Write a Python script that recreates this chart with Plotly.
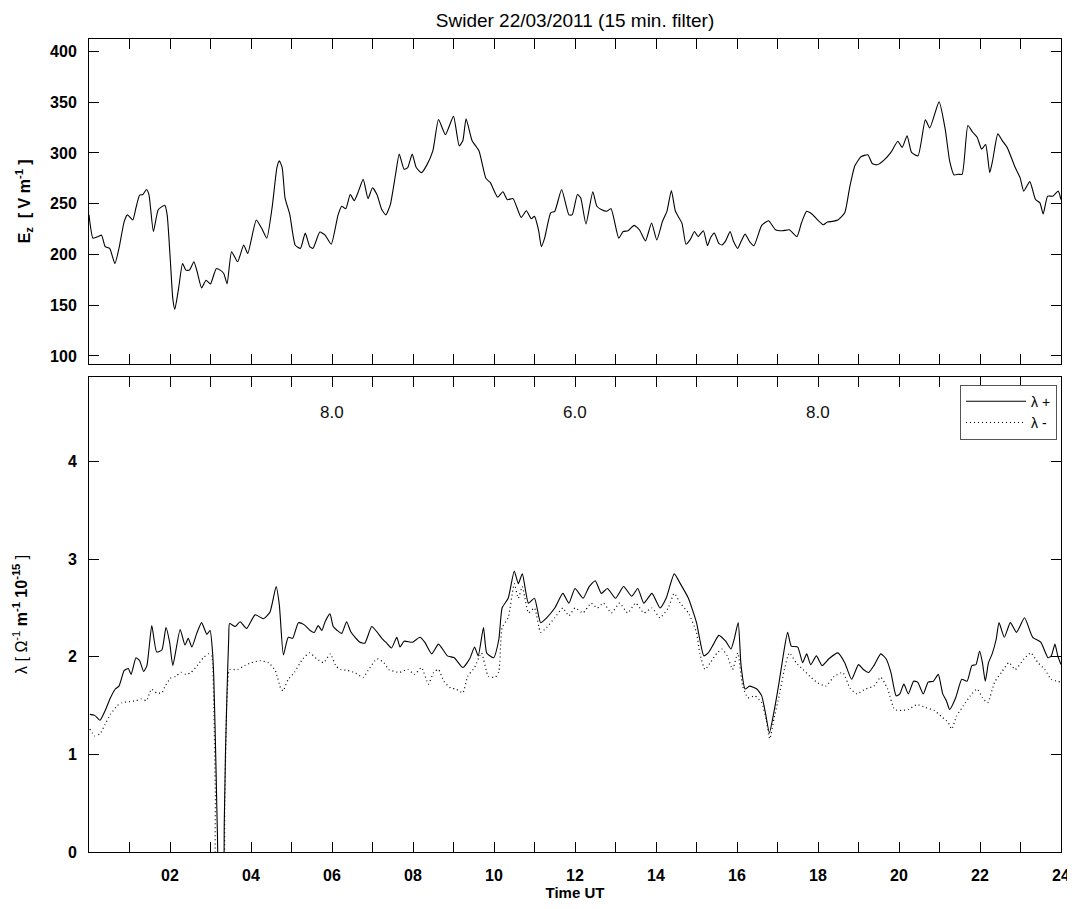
import plotly.graph_objects as go

# ---------------- data ----------------
ez_time = [0.0, 0.1, 0.23, 0.31, 0.4, 0.51, 0.64, 0.74, 0.87, 0.95, 1.08, 1.16, 1.25, 1.33, 1.42, 1.48,
           1.59, 1.71, 1.87, 1.93, 2.01, 2.07, 2.12, 2.21, 2.31, 2.39, 2.48, 2.59, 2.67, 2.78, 2.89, 3.0,
           3.14, 3.24, 3.33, 3.41, 3.52, 3.67, 3.82, 3.92, 4.13, 4.26, 4.39, 4.52, 4.64, 4.7, 4.77, 4.84,
           4.96, 5.09, 5.22, 5.34, 5.45, 5.53, 5.7, 5.83, 5.98, 6.15, 6.24, 6.34, 6.45, 6.55, 6.64, 6.77,
           6.89, 7.0, 7.11, 7.23, 7.33, 7.44, 7.57, 7.66, 7.78, 7.87, 7.98, 8.08, 8.21, 8.34, 8.49, 8.63,
           8.8, 9.0, 9.14, 9.23, 9.31, 9.46, 9.63, 9.8, 9.91, 10.09, 10.22, 10.33, 10.47, 10.67, 10.8, 10.92,
           11.0, 11.1, 11.17, 11.25, 11.4, 11.5, 11.67, 11.85, 11.93, 12.06, 12.14, 12.27, 12.44, 12.54, 12.66,
           12.78, 12.89, 13.08, 13.19, 13.31, 13.46, 13.59, 13.74, 13.89, 14.02, 14.16, 14.27, 14.38, 14.48,
           14.64, 14.74, 14.84, 14.95, 15.04, 15.17, 15.27, 15.35, 15.44, 15.55, 15.63, 15.72, 15.83, 15.91,
           16.02, 16.1, 16.2, 16.31, 16.42, 16.61, 16.78, 16.95, 17.12, 17.29, 17.48, 17.59, 17.72, 17.85,
           17.99, 18.13, 18.23, 18.36, 18.49, 18.66, 18.78, 18.91, 19.06, 19.23, 19.34, 19.46, 19.63, 19.8,
           19.97, 20.08, 20.2, 20.31, 20.47, 20.65, 20.76, 20.99, 21.14, 21.25, 21.36, 21.46, 21.56, 21.7,
           21.82, 21.93, 22.04, 22.14, 22.24, 22.31, 22.44, 22.55, 22.67, 22.87, 22.99, 23.08, 23.23, 23.37,
           23.48, 23.56, 23.67, 23.8, 23.93, 24.0]
ez_value = [239, 216, 217.6, 219, 207.7, 206, 191, 206, 232.6, 239, 234, 246, 258.4, 259, 264, 259,
            222.6, 244, 248.5, 239, 193, 156, 146, 166, 191, 184.5, 184.5, 192.8, 183, 167, 174.5, 171,
            186, 184.5, 181, 171, 202.7, 192.8, 209.3, 201, 234, 226, 216, 245.8, 285.6, 292.2, 285.6, 255.8,
            239, 209.3, 206, 221, 207.7, 206, 222, 219, 210, 239, 247.5, 245, 259, 253, 260.7, 274,
            255, 265.7, 259, 244, 239, 249, 279, 298.9, 284, 285.6, 298.9, 285.6, 280.6, 288, 302, 333,
            318, 336, 307, 312, 333.7, 312, 302, 275, 270.7, 256.4, 261.7, 254, 255, 236.5, 243, 235.2,
            237.5, 224, 207.7, 216, 241, 242.5, 264, 239, 239, 259, 255.8, 230, 261.7, 247.5, 244,
            242.5, 245, 216, 222.6, 223.3, 228.6, 224.3, 213.3, 230.9, 214.3, 232.6, 242.5, 263, 242.5,
            230.9, 210, 214.3, 222.6, 217.6, 223.3, 208.7, 216.6, 221, 211, 209.3, 213.3, 222.6, 213.3,
            206, 212.7, 220, 212.7, 208.7, 228.6, 233.2, 224.3, 223.3, 224.3, 217.6, 230.9, 242.5, 239.8,
            234, 229.2, 231.9, 232.6, 234, 241, 265.7, 287.3, 296.2, 298.2, 289.6, 288.3, 292.9, 300.5,
            311.5, 305.5, 317, 300.5, 297.2, 332.7, 324.7, 350.3, 323.7, 292.2, 278.3, 279, 279, 327,
            320.4, 315.5, 303.8, 308.2, 280.6, 292.2, 318.8, 312.1, 305.5, 285.6, 275.7, 262.4, 271.7, 254.1,
            250.8, 239.9, 257.4, 257.4, 262.4, 254.1]

lp_time = [0.02, 0.14, 0.27, 0.4, 0.53, 0.65, 0.74, 0.87, 0.97, 1.04, 1.16, 1.25, 1.35, 1.43, 1.55, 1.67,
           1.8, 1.9, 1.99, 2.07, 2.25, 2.37, 2.45, 2.54, 2.66, 2.78, 2.91, 2.99, 3.05, 3.08, 3.12, 3.14,
           3.17, 3.22, 3.3, 3.34, 3.37, 3.41, 3.45, 3.47, 3.61, 3.73, 3.89, 4.1, 4.31, 4.47, 4.62, 4.7,
           4.8, 4.92, 5.03, 5.17, 5.31, 5.46, 5.56, 5.66, 5.75, 5.83, 5.95, 6.03, 6.13, 6.24, 6.36, 6.46,
           6.57, 6.69, 6.81, 6.98, 7.1, 7.23, 7.35, 7.47, 7.6, 7.68, 7.78, 7.99, 8.17, 8.29, 8.46, 8.63,
           8.85, 9.02, 9.23, 9.4, 9.52, 9.61, 9.74, 9.82, 9.99, 10.12, 10.2, 10.35, 10.5, 10.6, 10.7, 10.85,
           11.0, 11.15, 11.3, 11.5, 11.7, 11.85, 12.0, 12.2, 12.35, 12.5, 12.65, 12.8, 13.0, 13.2, 13.4,
           13.55, 13.7, 13.9, 14.1, 14.25, 14.45, 14.6, 14.8, 15.0, 15.08, 15.18, 15.29, 15.42, 15.55,
           15.72, 15.85, 15.93, 16.03, 16.1, 16.2, 16.31, 16.49, 16.61, 16.7, 16.8, 16.91, 17.04, 17.14,
           17.25, 17.34, 17.5, 17.62, 17.72, 17.82, 17.96, 18.1, 18.27, 18.49, 18.66, 18.83, 19.0, 19.12,
           19.25, 19.38, 19.55, 19.68, 19.8, 19.93, 20.02, 20.12, 20.23, 20.36, 20.46, 20.6, 20.72, 20.85,
           20.97, 21.08, 21.17, 21.25, 21.4, 21.55, 21.68, 21.8, 21.9, 21.99, 22.06, 22.13, 22.21, 22.3,
           22.4, 22.47, 22.6, 22.75, 22.9, 23.1, 23.3, 23.5, 23.68, 23.76, 23.85, 23.92, 24.0]
lp_value = [1.41, 1.40, 1.35, 1.45, 1.58, 1.67, 1.70, 1.86, 1.88, 1.82, 1.99, 1.96, 1.85, 1.91, 2.32, 2.05,
            2.07, 2.30, 2.15, 1.91, 2.28, 2.12, 2.19, 2.10, 2.24, 2.35, 2.23, 2.27, 2.05, 1.80, 1.15, 0.78,
            0.20, -0.3, -0.3, 0.3, 1.02, 1.67, 2.20, 2.34, 2.31, 2.36, 2.29, 2.43, 2.39, 2.46, 2.72, 2.53,
            2.02, 2.20, 2.19, 2.35, 2.33, 2.27, 2.25, 2.32, 2.27, 2.36, 2.44, 2.31, 2.27, 2.24, 2.36, 2.26,
            2.20, 2.15, 2.14, 2.31, 2.26, 2.19, 2.14, 2.09, 2.20, 2.10, 2.16, 2.15, 2.20, 2.15, 2.03, 2.13,
            2.01, 1.99, 1.89, 1.98, 2.10, 2.01, 2.30, 2.04, 1.99, 2.18, 2.50, 2.60, 2.88, 2.75, 2.85, 2.55,
            2.60, 2.35, 2.40, 2.50, 2.65, 2.55, 2.70, 2.60, 2.72, 2.78, 2.65, 2.70, 2.60, 2.72, 2.62,
            2.70, 2.55, 2.65, 2.50, 2.60, 2.85, 2.75, 2.60, 2.35, 2.18, 2.01, 2.04, 2.13, 2.22,
            2.16, 2.08, 2.18, 2.35, 1.91, 1.67, 1.70, 1.67, 1.60, 1.43, 1.22, 1.43, 1.74, 2.01,
            2.25, 2.11, 2.10, 1.94, 2.03, 1.92, 2.01, 1.91, 1.98, 2.04, 1.94, 1.77, 1.92, 1.87,
            1.84, 1.91, 2.03, 1.98, 1.84, 1.60, 1.62, 1.72, 1.62, 1.75, 1.74, 1.62, 1.74, 1.75,
            1.82, 1.62, 1.55, 1.46, 1.58, 1.77, 1.75, 1.91, 1.92, 2.06, 1.94, 1.75, 1.94, 2.03,
            2.18, 2.35, 2.20, 2.35, 2.25, 2.40, 2.20, 2.15, 1.99, 2.01, 2.13, 2.01, 1.92]

lm_time = [0.02, 0.14, 0.27, 0.4, 0.53, 0.7, 0.82, 0.99, 1.16, 1.29, 1.42, 1.54, 1.67, 1.8, 1.88, 2.01,
           2.14, 2.27, 2.39, 2.52, 2.69, 2.82, 2.95, 3.03, 3.08, 3.12, 3.16, 3.3, 3.35, 3.4, 3.45, 3.48,
           3.67, 3.84, 4.01, 4.22, 4.43, 4.6, 4.73, 4.79, 4.92, 5.07, 5.28, 5.45, 5.62, 5.79, 5.96, 6.09,
           6.21, 6.38, 6.55, 6.77, 6.89, 7.11, 7.28, 7.4, 7.66, 7.87, 8.04, 8.21, 8.38, 8.51, 8.63, 8.76,
           8.93, 9.06, 9.23, 9.35, 9.52, 9.69, 9.86, 10.03, 10.12, 10.2, 10.35, 10.5, 10.6, 10.7, 10.85,
           11.0, 11.15, 11.3, 11.5, 11.7, 11.85, 12.0, 12.2, 12.4, 12.55, 12.7, 12.9, 13.1, 13.3, 13.5,
           13.7, 13.9, 14.1, 14.3, 14.45, 14.6, 14.8, 15.0, 15.08, 15.21, 15.34, 15.51, 15.63, 15.76, 15.89,
           16.02, 16.14, 16.27, 16.44, 16.61, 16.72, 16.81, 16.91, 17.04, 17.17, 17.29, 17.46, 17.63, 17.8,
           17.97, 18.19, 18.4, 18.61, 18.79, 18.96, 19.17, 19.38, 19.55, 19.72, 19.89, 20.06, 20.23, 20.44,
           20.66, 20.87, 21.04, 21.21, 21.3, 21.42, 21.59, 21.76, 21.93, 22.06, 22.19, 22.36, 22.53, 22.71,
           22.87, 23.09, 23.26, 23.43, 23.6, 23.76, 24.0]
lm_value = [1.26, 1.19, 1.21, 1.31, 1.41, 1.50, 1.53, 1.54, 1.55, 1.57, 1.55, 1.67, 1.63, 1.63, 1.70, 1.78,
            1.80, 1.84, 1.82, 1.84, 1.92, 1.99, 2.03, 2.01, 1.50, 0.60, -0.3, -0.3, 0.50, 1.50, 1.85, 1.87,
            1.87, 1.91, 1.94, 1.96, 1.94, 1.86, 1.68, 1.65, 1.77, 1.84, 1.98, 2.04, 1.98, 1.94, 2.03, 1.91,
            1.87, 1.86, 1.84, 1.79, 1.86, 1.98, 1.94, 1.87, 1.84, 1.87, 1.82, 1.89, 1.72, 1.84, 1.87, 1.75,
            1.68, 1.67, 1.63, 1.80, 1.89, 2.04, 1.80, 1.79, 1.85, 2.30, 2.40, 2.75, 2.60, 2.72, 2.45,
            2.50, 2.25, 2.30, 2.40, 2.50, 2.42, 2.50, 2.45, 2.55, 2.50, 2.55, 2.45, 2.55, 2.45, 2.55,
            2.45, 2.50, 2.40, 2.50, 2.65, 2.55, 2.45, 2.25, 2.04, 1.87, 1.94, 2.04, 2.08, 2.01, 1.87,
            2.04, 1.70, 1.58, 1.60, 1.53, 1.36, 1.16, 1.36, 1.60, 1.87, 2.04, 1.94, 1.87, 1.80,
            1.74, 1.70, 1.80, 1.84, 1.68, 1.62, 1.67, 1.70, 1.79, 1.67, 1.46, 1.45, 1.46, 1.51,
            1.48, 1.45, 1.39, 1.33, 1.26, 1.39, 1.50, 1.60, 1.67, 1.58, 1.53, 1.74, 1.84, 1.94,
            1.87, 1.98, 2.04, 1.94, 1.87, 1.77, 1.74]

ann_x = [6, 12, 18]
ann_text = ["8.0", "6.0", "8.0"]
ann_y = 4.5

hour_ticks = list(range(0, 25))
hour_labels = ["" if (h % 2 or h == 0) else f"{h:02d}" for h in hour_ticks]

# ---------------- figure ----------------
FONT = "Arial, 'Liberation Sans', sans-serif"
W, H = 1067, 901  # page body has an 8px margin
fig = go.Figure()

fig.add_trace(go.Scatter(x=ez_time, y=ez_value, mode="lines", xaxis="x2", yaxis="y2",
                         line=dict(color="black", width=1.1, shape="spline", smoothing=0.5),
                         showlegend=False))
fig.add_trace(go.Scatter(x=lp_time, y=lp_value, mode="lines", xaxis="x", yaxis="y",
                         line=dict(color="black", width=1.1, shape="spline", smoothing=0.5),
                         name="λ +"))
fig.add_trace(go.Scatter(x=lm_time, y=lm_value, mode="lines", xaxis="x", yaxis="y",
                         line=dict(color="black", width=1.2, dash="1px,3px", shape="spline", smoothing=0.5),
                         name="λ -"))

for xv, t in zip(ann_x, ann_text):
    fig.add_annotation(x=xv, y=ann_y, xref="x", yref="y", text=t, showarrow=False,
                       font=dict(family=FONT, size=17, color="#111"))

common_x = dict(range=[0, 24], tickmode="array", tickvals=hour_ticks, ticks="inside", ticklen=10,
                tickcolor="black", tickwidth=1, showline=True, linecolor="black", linewidth=1,
                mirror="ticks", showgrid=False, zeroline=False, automargin=False)
common_y = dict(ticks="inside", ticklen=10, tickcolor="black", tickwidth=1, showline=True,
                linecolor="black", linewidth=1, mirror="ticks", showgrid=False, zeroline=False,
                automargin=False,
                tickfont=dict(family=FONT, size=16, color="black", weight="bold"))

fig.update_layout(
    width=W, height=H,
    paper_bgcolor="white", plot_bgcolor="white",
    margin=dict(l=81, r=14, t=31, b=57, autoexpand=False),
    title=dict(text="Swider 22/03/2011 (15 min. filter)", x=0.5, xref="paper", y=1 - 12 / H,
               yref="container", yanchor="middle", automargin=False,
               font=dict(family=FONT, size=19, color="black")),
    xaxis=dict(common_x, anchor="y", domain=[0, 1], ticktext=hour_labels,
               tickfont=dict(family=FONT, size=16, color="black", weight="bold"),
               ticklabelstandoff=9,
               title=dict(text="Time UT", font=dict(family=FONT, size=15, color="black", weight="bold"),
                          standoff=2)),
    yaxis=dict(common_y, anchor="x", domain=[0, 0.5846], range=[0, 4.87], tickvals=[0, 1, 2, 3, 4],
               ticklabelstandoff=8,
               title=dict(text="λ [ Ω<sup>-1</sup> <b>m<sup>-1</sup> 10<sup>-15</sup></b> ]",
                          font=dict(family=FONT, size=16, color="black"), standoff=36)),
    xaxis2=dict(common_x, anchor="y2", domain=[0, 1], showticklabels=False, matches="x"),
    yaxis2=dict(common_y, anchor="x2", domain=[0.6006, 1], range=[92.3, 412.3],
                tickvals=[100, 150, 200, 250, 300, 350, 400], ticklabelstandoff=8,
                title=dict(text="<b>E<sub>z</sub>  [ V m<sup>-1</sup> ]</b>",
                           font=dict(family=FONT, size=16, color="black"), standoff=15)),
    legend=dict(x=0.9959, xanchor="right", y=0.5748, yanchor="top", bgcolor="white",
                bordercolor="#555", borderwidth=1, itemwidth=60,
                font=dict(family=FONT, size=14, color="black"),
                tracegroupgap=0),
    showlegend=True,
)

fig.write_html("out.html")
